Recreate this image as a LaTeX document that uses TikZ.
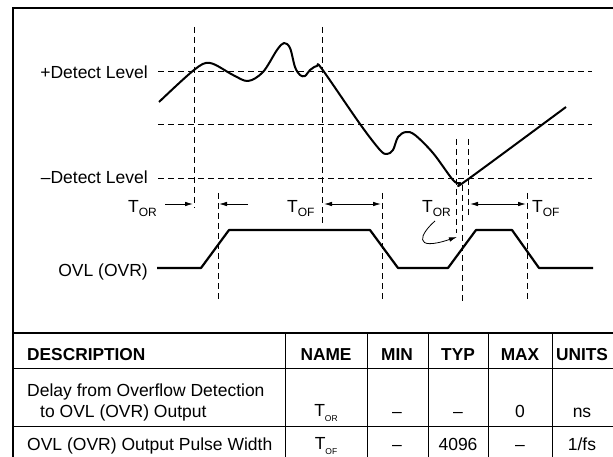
\documentclass[tikz,border=0pt]{standalone}
\usepackage{fontspec}
\setmainfont{Liberation Sans}
\usetikzlibrary{positioning,arrows.meta}

\newcommand{\Tsub}[1]{T\raisebox{-4pt}{\fontsize{12}{12}\selectfont #1}}
\newcommand{\Ttab}[1]{T\raisebox{-5pt}{\fontsize{8.5}{9}\selectfont #1}}

\begin{document}
\begin{tikzpicture}[x=1pt,y=-1pt,
  >={Latex[length=8pt,width=4.5pt]},
  txt/.style={inner sep=0pt,font=\fontsize{17.5}{21}\selectfont},
  hd/.style={inner sep=0pt,font=\fontsize{17.3}{21}\selectfont\bfseries},
  lvl/.style={dash pattern=on 6pt off 4pt,line width=0.9pt},
  wave/.style={line width=2.2pt,line join=round},
  meas/.style={line width=0.8pt},
  frame/.style={line width=2pt},
  grid/.style={line width=0.9pt}]
\useasboundingbox (0,0) rectangle (613,457);

% frame
\draw[frame] (613,8) -- (13,8) -- (13,457);
\draw[frame] (13,333) -- (613,333);

% levels
\node[txt,anchor=base east] (plus)  at (148,79)  {+Detect Level};
\node[txt,anchor=base east] (minus) at (148,184) {–Detect Level};
\node[txt,anchor=base east] (ovl)   at (148,276) {OVL (OVR)};
\draw[lvl] (158,71) -- (592,71);
\draw[lvl] (158,124) -- (592,124);
\draw[lvl] (158,178) -- (592,178);

% timing marks
\draw[lvl] (194,27) -- (194,208);
\draw[lvl] (322,27) -- (322,225);
\draw[lvl] (218,193) -- (218,302);
\draw[lvl] (382,193) -- (382,302);
\draw[lvl] (456,139) -- (456,233);
\draw[lvl] (468,139) -- (468,217);
\draw[lvl] (462,185) -- (462,302);
\draw[lvl] (527,193) -- (527,302);

% input
\draw[wave,line width=2pt] plot[smooth,tension=0.55] coordinates {
  (159,102) (194,70) (210,63) (233,75) (248,81) (263,72) (277,50) (284,43)
  (290,48) (295,67) (300,75) (305,76) (310,70) (317,66) (322,69)
  (360,124) (380,150) (387,154) (393,150) (398,137) (406,132) (415,135)
  (433,153) (453,180) (460,183) (467,180) (566,107)};

% output
\draw[wave] (157,268) -- (201,268) -- (229,230) -- (370,230) -- (398,268)
  -- (448,268) -- (476,230) -- (512,230) -- (539,268) -- (593,268);

% delays
\node[txt,anchor=base west] (tor1) at (128,213) {\Tsub{OR}};
\node[txt,anchor=base west] (tof1) at (287,213) {\Tsub{OF}};
\node[txt,anchor=base west] (tor2) at (422,213) {\Tsub{OR}};
\node[txt,anchor=base west] (tof2) at (532,213) {\Tsub{OF}};
\coordinate (r1a) at (165,204);
\coordinate (r1b) at (193,204);
\coordinate (r2a) at (248,204);
\coordinate (r2b) at (219,204);
\coordinate (f1a) at (324,204);
\coordinate (f1b) at (381,204);
\coordinate (f2a) at (470,204);
\coordinate (f2b) at (526,204);
\coordinate (bend) at (457,237);
\draw[meas,->] (r1a) -- (r1b);
\draw[meas,->] (r2a) -- (r2b);
\draw[meas,<->] (f1a) -- (f1b);
\draw[meas,<->] (f2a) -- (f2b);
\draw[meas,->] (435,221) .. controls (420,234) and (412,252) .. (bend);

% table
\draw[grid] (13,368) -- (613,368);
\draw[grid] (13,426) -- (613,426);
\foreach \x in {285,367,428,488,552}
  \draw[grid] (\x,333) -- (\x,457);

\node[hd,anchor=base west] (desc) at (27,360) {DESCRIPTION};
\node[hd,anchor=base] (name) at (326,360) {NAME};
\node[hd,anchor=base] (min)  at (397,360) {MIN};
\node[hd,anchor=base] (typ)  at (458,360) {TYP};
\node[hd,anchor=base] (max)  at (520,360) {MAX};
\node[hd,anchor=base] (unit) at (582,360) {UNITS};

\node[txt,anchor=base west] (d1a) at (27,396) {Delay from Overflow Detection};
\node[txt,anchor=base west] (d1b) at (40,417) {to OVL (OVR) Output};
\node[txt,anchor=base] (n1) at (326,416) {\Ttab{OR}};
\node[txt,anchor=base] (m1) at (397,417) {–};
\node[txt,anchor=base] (t1) at (458,417) {–};
\node[txt,anchor=base] (x1) at (520,417) {0};
\node[txt,anchor=base] (u1) at (582,417) {ns};

\node[txt,anchor=base west] (d2) at (27,450) {OVL (OVR) Output Pulse Width};
\node[txt,anchor=base] (n2) at (326,449) {\Ttab{OF}};
\node[txt,anchor=base] (m2) at (397,450) {–};
\node[txt,anchor=base] (t2) at (458,450) {4096};
\node[txt,anchor=base] (x2) at (520,450) {–};
\node[txt,anchor=base] (u2) at (582,450) {1/fs};
\end{tikzpicture}
\end{document}
